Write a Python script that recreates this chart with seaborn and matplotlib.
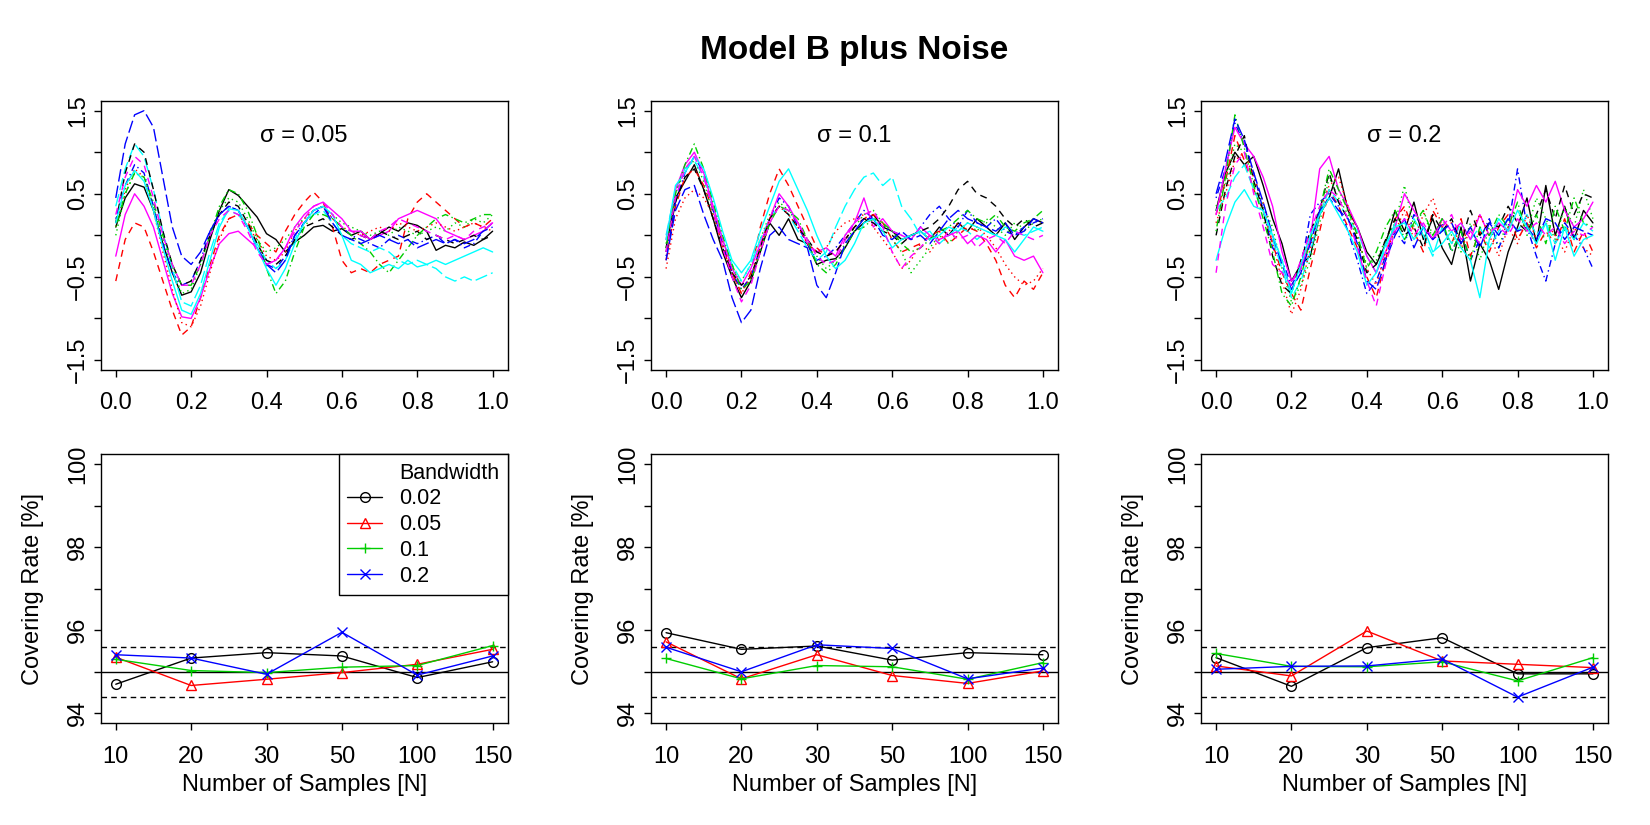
import numpy as np
import pandas as pd
import matplotlib
matplotlib.use("Agg")
import matplotlib.pyplot as plt
from matplotlib.lines import Line2D
import seaborn as sns

# ---------------- data ----------------
X_GRID = np.linspace(0.0, 1.0, 41)
SIGMAS = ["0.05", "0.1", "0.2"]

CURVES_S005 = [
    [0.10, 0.45, 0.62, 0.58, 0.30, -0.10, -0.45, -0.72, -0.68, -0.45, -0.05, 0.30, 0.55, 0.48, 0.35, 0.22, 0.02, -0.05, -0.20, -0.08, 0.00, 0.10, 0.12, 0.05, 0.08, 0.00, 0.05, -0.05, 0.02, 0.10, 0.05, 0.15, 0.12, 0.05, -0.18, -0.12, -0.15, -0.08, -0.12, -0.05, 0.05],
    [-0.55, -0.05, 0.15, 0.10, -0.20, -0.55, -0.90, -1.20, -1.10, -0.75, -0.35, 0.00, 0.20, 0.25, 0.15, 0.00, -0.10, -0.20, 0.05, 0.25, 0.40, 0.52, 0.40, 0.10, -0.30, -0.45, -0.40, -0.45, -0.35, -0.30, -0.25, 0.20, 0.40, 0.50, 0.40, 0.30, 0.20, 0.10, 0.15, 0.10, 0.20],
    [0.00, 0.50, 0.75, 0.70, 0.35, -0.05, -0.40, -0.70, -0.65, -0.35, 0.00, 0.30, 0.45, 0.40, 0.20, -0.05, -0.20, -0.15, -0.05, 0.10, 0.20, 0.30, 0.35, 0.25, 0.15, 0.10, 0.05, 0.00, 0.05, 0.00, 0.10, 0.05, 0.00, 0.05, 0.10, 0.05, 0.15, 0.10, 0.20, 0.15, 0.25],
    [0.20, 0.60, 0.85, 0.75, 0.35, -0.10, -0.45, -0.60, -0.55, -0.30, 0.05, 0.25, 0.35, 0.30, 0.10, -0.15, -0.35, -0.40, -0.25, 0.00, 0.15, 0.25, 0.35, 0.20, 0.10, 0.00, -0.05, -0.10, -0.15, -0.05, 0.00, -0.05, -0.10, -0.05, 0.00, -0.10, -0.05, -0.15, -0.10, 0.05, 0.15],
    [0.35, 0.80, 1.10, 0.95, 0.55, 0.05, -0.40, -0.80, -0.85, -0.60, -0.20, 0.15, 0.30, 0.25, 0.10, -0.10, -0.30, -0.40, -0.30, -0.05, 0.15, 0.25, 0.30, 0.15, 0.00, -0.10, -0.15, -0.20, -0.15, -0.20, -0.30, -0.35, -0.30, -0.35, -0.40, -0.50, -0.55, -0.50, -0.55, -0.50, -0.45],
    [-0.25, 0.25, 0.50, 0.35, 0.10, -0.30, -0.70, -0.98, -1.00, -0.75, -0.40, -0.10, 0.02, 0.05, -0.05, -0.15, -0.35, -0.30, -0.15, 0.10, 0.25, 0.35, 0.40, 0.30, 0.20, 0.05, 0.05, -0.05, 0.00, 0.05, 0.20, 0.25, 0.30, 0.25, 0.20, 0.05, 0.00, -0.05, 0.00, 0.05, 0.15],
    [0.15, 0.75, 1.10, 1.00, 0.55, 0.05, -0.35, -0.60, -0.55, -0.30, 0.00, 0.25, 0.40, 0.35, 0.15, -0.10, -0.30, -0.35, -0.25, -0.05, 0.10, 0.15, 0.20, 0.10, 0.00, -0.05, 0.00, -0.05, 0.05, 0.00, -0.05, 0.00, 0.05, -0.05, 0.00, -0.05, -0.10, -0.05, 0.00, -0.05, 0.00],
    [0.10, 0.55, 0.80, 0.70, 0.30, -0.20, -0.65, -1.05, -1.10, -0.85, -0.45, -0.05, 0.20, 0.25, 0.10, -0.05, -0.25, -0.30, -0.20, 0.05, 0.20, 0.30, 0.35, 0.20, 0.10, 0.05, 0.00, 0.05, 0.10, 0.05, 0.15, 0.10, 0.05, 0.10, 0.15, 0.10, 0.05, 0.10, 0.15, 0.10, 0.05],
    [0.10, 0.50, 0.75, 0.70, 0.40, 0.00, -0.35, -0.60, -0.60, -0.35, 0.00, 0.35, 0.55, 0.50, 0.30, 0.00, -0.40, -0.70, -0.55, -0.20, 0.10, 0.25, 0.25, 0.20, 0.10, 0.00, -0.10, -0.20, -0.35, -0.45, -0.30, -0.15, 0.00, 0.10, 0.20, 0.25, 0.20, 0.15, 0.20, 0.25, 0.25],
    [0.45, 1.10, 1.45, 1.50, 1.30, 0.70, 0.10, -0.25, -0.35, -0.20, 0.05, 0.25, 0.35, 0.30, 0.10, -0.15, -0.35, -0.45, -0.30, 0.00, 0.15, 0.30, 0.35, 0.15, 0.00, -0.05, -0.10, -0.05, 0.00, -0.05, -0.10, -0.05, -0.15, -0.10, -0.05, -0.10, -0.05, -0.10, -0.05, 0.05, 0.10],
    [0.15, 0.60, 0.78, 0.65, 0.30, -0.15, -0.55, -0.90, -0.95, -0.70, -0.30, 0.10, 0.32, 0.30, 0.10, -0.15, -0.40, -0.60, -0.40, -0.10, 0.15, 0.30, 0.35, 0.25, 0.00, -0.30, -0.35, -0.45, -0.40, -0.35, -0.40, -0.30, -0.38, -0.35, -0.30, -0.35, -0.30, -0.25, -0.20, -0.15, -0.20],
    [0.25, 0.70, 0.95, 0.85, 0.45, 0.00, -0.35, -0.60, -0.60, -0.35, 0.00, 0.20, 0.30, 0.25, 0.05, -0.20, -0.35, -0.30, -0.15, 0.05, 0.20, 0.35, 0.40, 0.25, 0.10, 0.05, 0.00, -0.05, 0.05, 0.10, 0.20, 0.15, 0.10, 0.05, 0.00, -0.05, 0.00, -0.05, 0.05, 0.10, 0.15],
]

CURVES_S01 = [
    [-0.15, 0.45, 0.65, 0.85, 0.55, 0.20, -0.20, -0.50, -0.75, -0.55, -0.20, 0.15, 0.00, 0.20, -0.05, -0.10, -0.35, -0.30, -0.28, -0.15, 0.05, 0.15, 0.25, 0.10, 0.05, -0.05, 0.00, 0.05, -0.05, 0.10, 0.00, 0.15, 0.05, 0.20, 0.10, 0.00, 0.15, -0.05, 0.10, 0.20, 0.15],
    [-0.30, 0.35, 0.70, 0.80, 0.60, 0.30, -0.15, -0.45, -0.70, -0.45, 0.10, 0.50, 0.80, 0.60, 0.35, 0.10, -0.15, -0.25, -0.20, -0.05, 0.10, 0.20, 0.25, 0.15, -0.05, -0.20, -0.15, -0.10, 0.00, 0.05, -0.10, 0.00, 0.10, 0.05, -0.10, -0.30, -0.60, -0.75, -0.55, -0.65, -0.45],
    [-0.10, 0.50, 0.80, 0.90, 0.65, 0.25, -0.10, -0.40, -0.55, -0.35, -0.05, 0.25, 0.40, 0.30, 0.15, -0.05, -0.25, -0.40, -0.30, -0.10, 0.10, 0.25, 0.30, 0.15, -0.05, -0.20, -0.45, -0.30, -0.15, 0.00, -0.10, 0.05, 0.15, 0.05, 0.20, 0.10, 0.00, 0.15, 0.05, 0.15, 0.20],
    [-0.25, 0.40, 0.75, 0.95, 0.75, 0.30, -0.10, -0.45, -0.65, -0.50, -0.15, 0.20, 0.45, 0.35, 0.10, -0.10, -0.30, -0.25, -0.15, 0.00, 0.15, 0.30, 0.20, 0.10, 0.05, 0.00, -0.05, 0.10, 0.25, 0.35, 0.20, 0.10, 0.30, 0.15, 0.10, 0.20, 0.05, 0.00, 0.10, 0.15, 0.20],
    [0.00, 0.55, 0.80, 0.90, 0.70, 0.35, -0.05, -0.35, -0.55, -0.35, -0.05, 0.20, 0.35, 0.25, 0.05, -0.15, -0.30, -0.20, 0.10, 0.35, 0.55, 0.70, 0.75, 0.60, 0.70, 0.35, 0.20, 0.00, 0.05, -0.10, 0.00, 0.10, 0.05, -0.05, 0.05, 0.00, 0.10, 0.05, 0.00, 0.05, 0.10],
    [-0.05, 0.55, 0.85, 1.00, 0.75, 0.35, -0.05, -0.40, -0.60, -0.40, -0.10, 0.20, 0.50, 0.35, 0.15, -0.10, -0.20, -0.15, -0.25, 0.00, 0.15, 0.45, 0.10, 0.20, 0.05, 0.00, -0.05, 0.10, 0.00, -0.05, 0.00, 0.05, -0.10, 0.00, -0.05, -0.20, -0.05, -0.25, -0.30, -0.25, -0.45],
    [-0.20, 0.40, 0.70, 0.80, 0.55, 0.20, -0.15, -0.45, -0.60, -0.50, -0.15, 0.20, 0.35, 0.25, 0.10, -0.05, -0.20, -0.25, -0.20, -0.05, 0.10, 0.20, 0.15, 0.05, 0.00, -0.10, 0.00, 0.05, 0.10, 0.20, 0.35, 0.55, 0.65, 0.50, 0.45, 0.35, 0.20, 0.10, 0.20, 0.10, 0.15],
    [-0.40, 0.20, 0.45, 0.55, 0.45, 0.25, -0.10, -0.45, -0.70, -0.50, -0.15, 0.20, 0.35, 0.25, 0.10, -0.10, -0.20, -0.15, 0.05, 0.15, 0.20, 0.25, 0.10, -0.05, -0.20, -0.40, -0.30, -0.10, -0.20, -0.05, 0.05, 0.15, 0.05, 0.10, 0.00, -0.15, -0.35, -0.50, -0.60, -0.55, -0.40],
    [-0.15, 0.50, 0.85, 1.10, 0.80, 0.40, 0.00, -0.35, -0.65, -0.55, -0.20, 0.15, 0.35, 0.30, 0.20, -0.05, -0.35, -0.45, -0.35, -0.15, 0.05, 0.10, 0.20, 0.15, 0.05, -0.10, -0.20, -0.15, -0.05, 0.05, 0.10, 0.20, 0.30, 0.20, 0.15, 0.25, 0.10, 0.05, 0.15, 0.20, 0.30],
    [-0.30, 0.30, 0.55, 0.60, 0.25, -0.05, -0.30, -0.75, -1.05, -0.90, -0.40, 0.00, 0.10, -0.05, -0.10, -0.15, -0.60, -0.75, -0.45, -0.10, 0.05, 0.20, 0.20, 0.00, -0.05, 0.05, -0.05, 0.00, -0.10, 0.05, 0.20, 0.30, 0.20, 0.15, 0.10, 0.05, 0.15, 0.00, 0.05, 0.20, 0.15],
    [-0.05, 0.60, 0.75, 0.95, 0.80, 0.45, 0.05, -0.30, -0.45, -0.30, 0.05, 0.35, 0.65, 0.80, 0.55, 0.30, 0.00, -0.25, -0.40, -0.30, -0.10, 0.15, 0.20, 0.05, -0.15, -0.05, 0.00, 0.05, -0.05, 0.00, 0.10, 0.05, 0.15, 0.10, 0.05, 0.00, -0.05, -0.20, -0.05, 0.10, 0.05],
    [-0.20, 0.45, 0.80, 0.95, 0.70, 0.30, -0.15, -0.50, -0.80, -0.60, -0.20, 0.15, 0.35, 0.30, 0.15, -0.05, -0.25, -0.35, -0.30, -0.05, 0.15, 0.25, 0.30, 0.10, -0.20, -0.40, -0.25, -0.15, 0.00, -0.10, 0.05, -0.05, 0.00, -0.15, -0.05, 0.00, -0.10, 0.05, 0.00, -0.05, 0.00],
]

CURVES_S02 = [
    [0.30, 0.75, 1.00, 0.85, 0.95, 0.60, 0.20, -0.10, -0.55, -0.35, -0.25, 0.25, 0.45, 0.80, 0.30, 0.10, -0.20, -0.35, -0.10, 0.30, 0.05, 0.40, -0.05, 0.20, -0.15, -0.35, 0.10, -0.55, -0.10, -0.30, -0.65, -0.20, 0.10, 0.45, -0.10, 0.60, 0.00, 0.35, -0.05, 0.30, 0.15],
    [0.25, 0.65, 1.20, 0.90, 0.55, 0.30, -0.10, -0.45, -0.70, -0.90, -0.40, 0.05, 0.55, 0.35, 0.10, -0.15, -0.50, -0.75, -0.30, 0.20, 0.35, 0.05, -0.20, 0.30, 0.10, -0.10, 0.20, -0.25, 0.05, -0.20, 0.10, 0.25, -0.05, 0.15, -0.15, 0.05, -0.10, 0.20, -0.20, 0.05, -0.20],
    [0.35, 0.60, 1.10, 1.00, 0.70, 0.35, 0.10, -0.40, -0.80, -0.60, -0.30, 0.15, 0.70, 0.45, 0.25, -0.05, -0.35, -0.30, -0.05, 0.15, 0.60, 0.10, 0.30, -0.05, 0.20, 0.00, -0.20, 0.15, -0.30, 0.10, -0.15, 0.20, 0.30, 0.05, 0.45, 0.20, -0.05, 0.35, 0.10, 0.55, 0.20],
    [0.45, 0.80, 1.35, 1.10, 0.75, 0.30, -0.15, -0.30, -0.60, -0.40, 0.25, 0.40, 0.50, 0.35, 0.05, -0.30, -0.70, -0.55, -0.25, 0.05, -0.10, 0.25, 0.10, -0.05, 0.15, -0.20, 0.05, -0.30, -0.05, 0.20, -0.15, 0.10, 0.80, 0.10, -0.25, -0.55, -0.10, 0.15, 0.00, -0.15, -0.40],
    [0.30, 0.45, 0.70, 0.85, 0.55, 0.30, -0.05, -0.40, -0.75, -0.55, -0.20, 0.25, 0.55, 0.40, 0.20, 0.05, -0.25, -0.45, -0.15, 0.15, -0.05, 0.20, 0.00, -0.25, 0.10, -0.10, 0.15, -0.05, 0.10, -0.15, 0.05, 0.20, 0.05, 0.25, 0.00, 0.15, -0.10, 0.10, -0.05, 0.15, 0.05],
    [0.25, 0.80, 1.30, 1.10, 0.95, 0.70, 0.35, -0.20, -0.55, -0.40, -0.05, 0.80, 0.95, 0.55, 0.35, 0.10, -0.25, -0.45, -0.20, 0.10, 0.50, 0.30, 0.10, -0.05, 0.20, 0.05, 0.15, -0.05, 0.25, 0.00, 0.15, 0.05, 0.55, 0.35, 0.60, 0.40, 0.65, 0.30, 0.10, 0.20, 0.40],
    [0.00, 0.55, 0.95, 1.20, 0.65, 0.30, -0.25, -0.60, -0.70, -0.30, 0.05, 0.30, 0.75, 0.40, 0.20, -0.05, -0.45, -0.35, -0.05, 0.20, 0.00, 0.10, -0.15, 0.25, 0.05, 0.20, -0.10, 0.30, 0.00, 0.15, 0.10, 0.35, 0.15, 0.05, 0.25, 0.55, 0.20, 0.60, 0.25, 0.50, 0.45],
    [0.15, 0.50, 0.90, 1.00, 0.70, 0.40, -0.10, -0.55, -0.95, -0.65, -0.15, 0.30, 0.60, 0.70, 0.35, 0.00, -0.40, -0.60, -0.20, 0.05, 0.30, -0.05, 0.25, 0.45, 0.10, 0.15, -0.15, 0.05, 0.25, 0.00, -0.25, 0.10, -0.10, 0.25, -0.05, 0.15, 0.00, -0.20, 0.10, -0.15, -0.25],
    [0.05, 0.70, 1.45, 1.05, 0.60, 0.20, -0.20, -0.70, -0.85, -0.50, -0.05, 0.30, 0.80, 0.55, 0.30, 0.00, -0.40, -0.20, 0.10, 0.30, -0.05, 0.15, 0.30, 0.00, 0.20, -0.20, 0.05, -0.30, 0.10, 0.00, 0.25, 0.10, 0.40, 0.00, 0.25, -0.10, 0.35, 0.05, 0.45, 0.15, 0.10],
    [0.50, 0.90, 1.40, 1.15, 0.75, 0.40, 0.00, -0.35, -0.65, -0.45, -0.10, 0.30, 0.45, 0.30, 0.20, -0.10, -0.55, -0.65, -0.30, 0.00, 0.20, -0.15, 0.10, -0.05, 0.05, 0.15, -0.10, 0.10, -0.15, 0.15, 0.00, 0.20, 0.05, 0.10, -0.05, 0.20, 0.15, -0.05, 0.10, 0.05, 0.00],
    [-0.30, 0.10, 0.40, 0.55, 0.35, 0.30, 0.00, -0.30, -0.70, -0.35, 0.00, 0.25, 0.45, 0.25, 0.05, -0.20, -0.60, -0.45, -0.10, 0.10, 0.15, -0.05, 0.10, -0.20, -0.10, 0.05, -0.15, -0.30, -0.75, -0.05, 0.20, 0.05, 0.30, 0.10, -0.10, 0.15, -0.30, 0.10, -0.25, -0.05, 0.00],
    [-0.45, 0.35, 0.85, 1.00, 0.50, 0.10, -0.35, -0.45, -0.60, -0.30, 0.05, 0.35, 0.55, 0.45, 0.20, -0.15, -0.55, -0.85, -0.35, 0.05, 0.20, 0.00, 0.15, -0.05, 0.10, 0.25, -0.05, 0.05, -0.10, 0.05, 0.10, 0.00, 0.20, 0.05, 0.15, 0.00, 0.10, -0.10, 0.05, 0.00, 0.10],
]

N_LABELS = ["10", "20", "30", "50", "100", "150"]
BANDWIDTHS = ["0.02", "0.05", "0.1", "0.2"]

COVER_S005 = {
    "0.02": [94.70, 95.33, 95.46, 95.38, 94.86, 95.24],
    "0.05": [95.35, 94.67, 94.82, 94.98, 95.18, 95.54],
    "0.1":  [95.30, 95.03, 94.98, 95.11, 95.15, 95.63],
    "0.2":  [95.41, 95.33, 94.94, 95.95, 94.92, 95.38],
}
COVER_S01 = {
    "0.02": [95.94, 95.54, 95.62, 95.28, 95.46, 95.41],
    "0.05": [95.72, 94.83, 95.41, 94.91, 94.72, 95.02],
    "0.1":  [95.32, 94.83, 95.15, 95.12, 94.82, 95.22],
    "0.2":  [95.59, 95.00, 95.65, 95.56, 94.83, 95.09],
}
COVER_S02 = {
    "0.02": [95.34, 94.65, 95.58, 95.82, 94.95, 94.95],
    "0.05": [95.14, 94.90, 95.98, 95.26, 95.18, 95.10],
    "0.1":  [95.44, 95.13, 95.12, 95.24, 94.78, 95.34],
    "0.2":  [95.06, 95.13, 95.14, 95.31, 94.39, 95.11],
}
NOMINAL = 95.0
BAND = [94.4, 95.6]

# ---------------- style ----------------
sns.set_style("white")
plt.rcParams["font.family"] = ["Liberation Sans", "DejaVu Sans"]
plt.rcParams["axes.unicode_minus"] = True
for key in ["text.color", "axes.labelcolor", "xtick.color", "ytick.color",
            "axes.edgecolor"]:
    plt.rcParams[key] = "black"

R_COLS = ["black", "red", "#00CD00", "blue", "cyan", "magenta"]
R_LTY = ["-", (0, (5, 4)), (0, (1, 2.5)), (0, (1, 2.5, 5, 2.5)), (0, (9, 3))]
BW_COLS = ["black", "red", "#00CD00", "blue"]
BW_MARK = ["o", "^", "+", "x"]

FS_TICK = 17
FS_LAB = 17
W, H = 1650, 825
fig = plt.figure(figsize=(W / 100, H / 100), dpi=100)

lefts = [100.7, 651.0, 1201.0]
pw = 407.0


def mkax(left_px, top_px, bot_px):
    return fig.add_axes([left_px / W, 1 - bot_px / H, pw / W, (bot_px - top_px) / H])


def style_ax(ax):
    for s in ax.spines.values():
        s.set_visible(True)
        s.set_color("black")
        s.set_linewidth(1.0)
    ax.tick_params(axis="both", direction="out", length=5, width=1.0, color="black",
                   labelcolor="black", labelsize=FS_TICK, bottom=True, left=True)
    ax.tick_params(axis="x", pad=11)
    ax.tick_params(axis="y", pad=3.5, labelrotation=90)
    for lbl in ax.get_yticklabels():
        lbl.set_va("center")
    ax.grid(False)


curve_sets = [CURVES_S005, CURVES_S01, CURVES_S02]
cover_sets = [COVER_S005, COVER_S01, COVER_S02]

for p in range(3):
    # top row
    ax = mkax(lefts[p], 100.7, 370.0)
    for i, ys in enumerate(curve_sets[p]):
        df = pd.DataFrame({"x": X_GRID, "y": ys})
        sns.lineplot(data=df, x="x", y="y", ax=ax, color=R_COLS[i % 6],
                     linestyle=R_LTY[i % 5], linewidth=1.0, estimator=None,
                     sort=False)
    ax.set_xlim(-0.04, 1.04)
    ax.set_ylim(-1.62, 1.62)
    ax.set_xticks([0.0, 0.2, 0.4, 0.6, 0.8, 1.0])
    ax.set_xticklabels(["0.0", "0.2", "0.4", "0.6", "0.8", "1.0"])
    ax.set_yticks([-1.5, -1.0, -0.5, 0.0, 0.5, 1.0, 1.5])
    ax.set_yticklabels(["\u22121.5", "", "\u22120.5", "", "0.5", "", "1.5"])
    ax.set_xlabel("")
    ax.set_ylabel("")
    style_ax(ax)
    ax.text(0.5, 1.2, "\u03c3 = " + SIGMAS[p], ha="center", va="center",
            fontsize=FS_LAB, color="black")

    # bottom row
    axb = mkax(lefts[p], 454.0, 723.3)
    pos = np.arange(1, 7)
    axb.axhline(NOMINAL, color="black", lw=1.0)
    for b in BAND:
        axb.axhline(b, color="black", lw=1.0, linestyle=(0, (4, 3)))
    for j, bw in enumerate(BANDWIDTHS):
        df = pd.DataFrame({"N": pos, "rate": cover_sets[p][bw]})
        sns.lineplot(data=df, x="N", y="rate", ax=axb, color=BW_COLS[j],
                     linewidth=1.0, marker=BW_MARK[j], markersize=7,
                     markerfacecolor="none", markeredgecolor=BW_COLS[j],
                     markeredgewidth=1.0, estimator=None, sort=False)
    axb.set_xlim(0.8, 6.2)
    axb.set_ylim(93.76, 100.24)
    axb.set_xticks(pos)
    axb.set_xticklabels(N_LABELS)
    axb.set_yticks([94, 95, 96, 97, 98, 99, 100])
    axb.set_yticklabels(["94", "", "96", "", "98", "", "100"])
    axb.set_xlabel("Number of Samples [N]", fontsize=FS_LAB, labelpad=5)
    axb.set_ylabel("Covering Rate [%]", fontsize=FS_LAB)
    axb.yaxis.set_label_coords(-0.14, 0.5)
    style_ax(axb)

    if p == 0:
        handles = [Line2D([], [], linestyle="none", marker=None)]
        labels = ["Bandwidth"]
        for j, bw in enumerate(BANDWIDTHS):
            handles.append(Line2D([], [], color=BW_COLS[j], lw=1.0, marker=BW_MARK[j],
                                  markersize=7, markerfacecolor="none",
                                  markeredgecolor=BW_COLS[j]))
            labels.append(bw)
        leg = axb.legend(handles, labels, loc="upper right", fontsize=15.5,
                         frameon=True, fancybox=False, borderaxespad=0,
                         handlelength=1.6, handletextpad=0.8, labelspacing=0.22,
                         borderpad=0.4)
        leg.get_frame().set_edgecolor("black")
        leg.get_frame().set_linewidth(1.0)
        leg.get_frame().set_alpha(1.0)
        for t in leg.get_texts():
            t.set_color("black")

fig.text(854.5 / W, 1 - 50.5 / H, "Model B plus Noise", ha="center", va="center",
         fontsize=24, fontweight="bold", color="black")

fig.savefig("out.png", dpi=100)
